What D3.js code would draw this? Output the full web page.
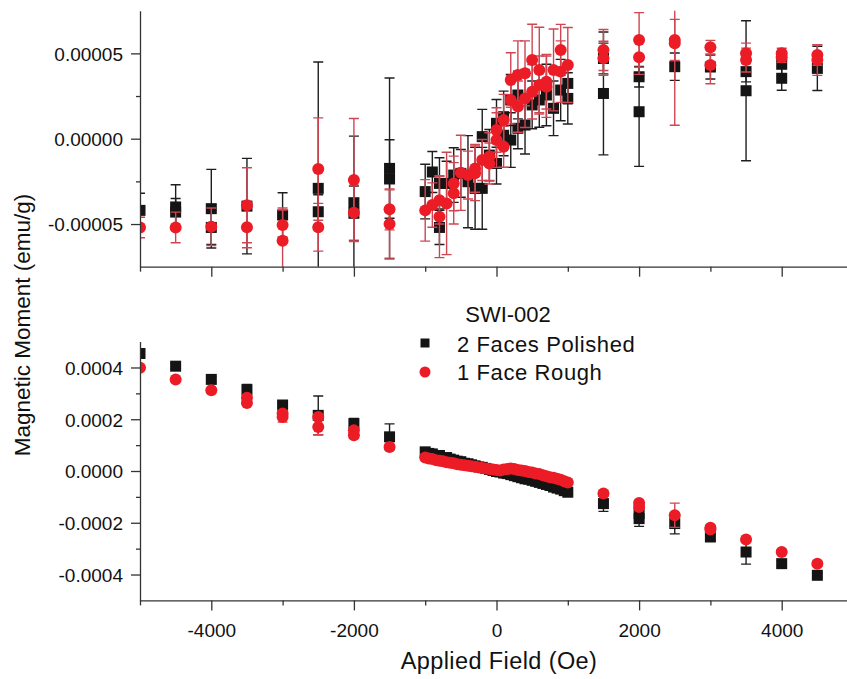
<!DOCTYPE html>
<html>
<head>
<meta charset="utf-8">
<script src="https://cdn.jsdelivr.net/npm/d3@7"></script>
<style>
  body { margin: 0; background: #fff; }
  svg { display: block; font-family: "Liberation Sans", Arial, sans-serif; }
</style>
</head>
<body>
<div id="chart"></div>
<script>
// ---- data (field in Oe, moment in emu/g) ----
// upper panel, 2 faces polished
const topPolishedField = [-5000, -4500, -4500, -4000, -4000, -3500, -3000, -2500, -2500, -2000, -2000, -1500, -1500,
  -1000, -900, -800, -800, -700, -600, -500, -400, -300, -200, -200, -100, 0, 0, 100, 100, 200, 200, 300, 300, 400, 500, 600, 700, 800, 900, 1000, 1000,
  1500, 1500, 2000, 2000, 2500, 3000, 3500, 3500, 4000, 4000, 4500];
const topPolishedMoment = [-4.2e-5, -4.0e-5, -4.3e-5, -4.1e-5, -5.2e-5, -3.95e-5, -4.47e-5, -2.91e-5, -4.28e-5, -3.75e-5, -4.37e-5, -1.74e-5, -2.36e-5,
  -3.1e-5, -1.95e-5, -2.62e-5, -5.2e-5, -2.62e-5, -2.13e-5, -2.03e-5, -2.52e-5, -2.91e-5, -2.91e-5, 0.12e-5, -0.96e-5, -1.45e-5, 0.9e-5, 0.2e-5, 1.29e-5, 2.27e-5, -0.08e-5, 0.61e-5, 2.56e-5, 0.8e-5, 1.98e-5, 2.27e-5, 2.56e-5, 1.78e-5, 2.85e-5, 2.36e-5, 3.24e-5,
  2.65e-5, 4.7e-5, 3.63e-5, 1.58e-5, 4.22e-5, 4.2e-5, 3.93e-5, 2.81e-5, 4.36e-5, 3.54e-5, 4.12e-5];
const topPolishedErr = [1.0e-5, 1.3e-5, 0.8e-5, 2.3e-5, 1.0e-5, 2.8e-5, 1.3e-5, 7.4e-5, 1.0e-5, 3.9e-5, 1.6e-5, 5.3e-5, 2.3e-5,
  1.6e-5, 1.2e-5, 1.5e-5, 1.0e-5, 1.3e-5, 1.6e-5, 1.4e-5, 2.7e-5, 2.4e-5, 2.4e-5, 1.6e-5, 1.5e-5, 1.2e-5, 1.4e-5, 1.2e-5, 1.5e-5, 1.5e-5, 1.6e-5, 1.2e-5, 1.4e-5, 1.7e-5, 1.4e-5, 1.6e-5, 1.8e-5, 1.6e-5, 1.8e-5, 1.5e-5, 1.2e-5,
  3.6e-5, 0.9e-5, 0.6e-5, 3.2e-5, 0.8e-5, 0.7e-5, 0.6e-5, 4.1e-5, 0.7e-5, 0.7e-5, 1.3e-5];

// upper panel, 1 face rough
const topRoughField = [-5000, -4500, -4000, -3500, -3500, -3000, -3000, -2500, -2500, -2000, -2000, -1500, -1500,
  -1000, -900, -800, -800, -700, -600, -600, -500, -400, -300, -300, -200, -100, -100, 0, 0, 100, 100, 200, 200, 300, 300, 400, 400, 500, 500, 600, 600, 700, 700, 800, 900, 900, 1000,
  1500, 1500, 2000, 2000, 2500, 2500, 3000, 3000, 3500, 3500, 4000, 4000, 4500, 4500];
const topRoughMoment = [-5.2e-5, -5.2e-5, -5.16e-5, -3.9e-5, -5.19e-5, -5.06e-5, -5.98e-5, -1.78e-5, -5.19e-5, -2.42e-5, -4.34e-5, -4.14e-5, -5.0e-5,
  -4.2e-5, -3.89e-5, -4.57e-5, -3.6e-5, -3.79e-5, -3.2e-5, -2.62e-5, -2.0e-5, -2.13e-5, -2.03e-5, -1.74e-5, -1.25e-5, -1.05e-5, -1.45e-5, -0.08e-5, 0.51e-5, -0.47e-5, 1.1e-5, 3.44e-5, 2.27e-5, 3.73e-5, 1.88e-5, 2.36e-5, 3.83e-5, 4.61e-5, 2.75e-5, 4.03e-5, 3.15e-5, 3.05e-5, 3.34e-5, 4.03e-5, 5.2e-5, 3.93e-5, 4.32e-5,
  5.2e-5, 4.71e-5, 5.79e-5, 4.77e-5, 5.79e-5, 5.59e-5, 5.36e-5, 4.32e-5, 5.0e-5, 4.61e-5, 5.0e-5, 4.77e-5, 4.9e-5, 4.61e-5];
const topRoughErr = [0.6e-5, 0.9e-5, 1.1e-5, 2.2e-5, 1.2e-5, 1.0e-5, 1.8e-5, 3.0e-5, 1.4e-5, 3.6e-5, 1.6e-5, 1.2e-5, 2.0e-5,
  1.8e-5, 1.3e-5, 2.4e-5, 1.4e-5, 3.0e-5, 1.8e-5, 1.6e-5, 2.2e-5, 1.4e-5, 1.6e-5, 1.4e-5, 1.2e-5, 1.4e-5, 1.2e-5, 1.6e-5, 1.3e-5, 1.2e-5, 1.5e-5, 1.6e-5, 1.4e-5, 2.0e-5, 1.5e-5, 1.7e-5, 1.9e-5, 2.1e-5, 1.6e-5, 2.5e-5, 1.7e-5, 1.8e-5, 1.6e-5, 2.4e-5, 1.5e-5, 1.8e-5, 2.2e-5,
  1.2e-5, 1.0e-5, 1.6e-5, 1.0e-5, 1.2e-5, 4.8e-5, 0.4e-5, 1.1e-5, 0.6e-5, 0.7e-5, 0.3e-5, 0.3e-5, 0.6e-5, 0.9e-5];

// lower panel, 2 faces polished
const botPolishedField = [-5000, -4500, -4000, -3500, -3000, -2500, -2000, -1500,
  -1000, -950, -900, -850, -800, -750, -700, -650, -600, -550, -500, -450, -400, -350, -300, -250, -200, -150, -100, -50, 0,
  50, 100, 150, 200, 250, 300, 350, 400, 450, 500, 550, 600, 650, 700, 750, 800, 850, 900, 950, 1000,
  1500, 2000, 2000, 2500, 3000, 3500, 4000, 4500];
const botPolishedMoment = [4.54e-4, 4.05e-4, 3.54e-4, 3.14e-4, 2.55e-4, 2.15e-4, 1.83e-4, 1.32e-4,
  0.74e-4, 0.68e-4, 0.66e-4, 0.58e-4, 0.60e-4, 0.50e-4, 0.52e-4, 0.46e-4, 0.42e-4, 0.38e-4, 0.36e-4, 0.30e-4, 0.28e-4, 0.24e-4, 0.20e-4, 0.16e-4, 0.14e-4, 0.10e-4, 0.06e-4, 0.02e-4, -0.02e-4,
  -0.04e-4, -0.08e-4, -0.10e-4, -0.14e-4, -0.18e-4, -0.22e-4, -0.26e-4, -0.30e-4, -0.32e-4, -0.36e-4, -0.40e-4, -0.44e-4, -0.48e-4, -0.52e-4, -0.56e-4, -0.62e-4, -0.66e-4, -0.70e-4, -0.76e-4, -0.82e-4,
  -1.26e-4, -1.65e-4, -1.84e-4, -2.03e-4, -2.55e-4, -3.13e-4, -3.58e-4, -4.03e-4];
const botPolishedErr = [0.1e-4, 0.1e-4, 0.1e-4, 0.2e-4, 0.1e-4, 0.75e-4, 0.2e-4, 0.5e-4,
  0.1e-4, 0.1e-4, 0.1e-4, 0.1e-4, 0.1e-4, 0.1e-4, 0.1e-4, 0.1e-4, 0.1e-4, 0.1e-4, 0.1e-4, 0.1e-4, 0.1e-4, 0.1e-4, 0.1e-4, 0.1e-4, 0.1e-4, 0.1e-4, 0.1e-4, 0.1e-4, 0.1e-4,
  0.1e-4, 0.1e-4, 0.1e-4, 0.1e-4, 0.1e-4, 0.1e-4, 0.1e-4, 0.1e-4, 0.1e-4, 0.1e-4, 0.1e-4, 0.1e-4, 0.1e-4, 0.1e-4, 0.1e-4, 0.1e-4, 0.1e-4, 0.1e-4, 0.1e-4, 0.1e-4,
  0.3e-4, 0.1e-4, 0.3e-4, 0.4e-4, 0.1e-4, 0.47e-4, 0.1e-4, 0.1e-4];

// lower panel, 1 face rough
const botRoughField = [-5000, -4500, -4000, -3500, -3500, -3000, -3000, -2500, -2500, -2000, -2000, -1500,
  -1000, -950, -900, -850, -800, -750, -700, -650, -600, -550, -500, -450, -400, -350, -300, -250, -200, -150, -100, -50, 0,
  50, 100, 150, 200, 250, 300, 350, 400, 450, 500, 550, 600, 650, 700, 750, 800, 850, 900, 950, 1000,
  1500, 2000, 2000, 2500, 3000, 3000, 3500, 4000, 4500];
const botRoughMoment = [3.99e-4, 3.54e-4, 3.12e-4, 2.83e-4, 2.63e-4, 2.22e-4, 2.09e-4, 2.09e-4, 1.70e-4, 1.57e-4, 1.38e-4, 0.93e-4,
  0.52e-4, 0.48e-4, 0.46e-4, 0.42e-4, 0.40e-4, 0.38e-4, 0.34e-4, 0.32e-4, 0.30e-4, 0.26e-4, 0.24e-4, 0.22e-4, 0.20e-4, 0.18e-4, 0.16e-4, 0.14e-4, 0.12e-4, 0.10e-4, 0.08e-4, 0.06e-4, 0.04e-4,
  0.02e-4, 0.06e-4, 0.08e-4, 0.10e-4, 0.08e-4, 0.04e-4, 0.02e-4, 0.00e-4, -0.04e-4, -0.06e-4, -0.10e-4, -0.12e-4, -0.16e-4, -0.20e-4, -0.24e-4, -0.26e-4, -0.30e-4, -0.34e-4, -0.40e-4, -0.44e-4,
  -0.87e-4, -1.24e-4, -1.39e-4, -1.71e-4, -2.19e-4, -2.26e-4, -2.65e-4, -3.13e-4, -3.58e-4];
const botRoughErr = [0.05e-4, 0.05e-4, 0.05e-4, 0.1e-4, 0.1e-4, 0.1e-4, 0.2e-4, 0.1e-4, 0.3e-4, 0.1e-4, 0.1e-4, 0.1e-4,
  0.05e-4, 0.05e-4, 0.05e-4, 0.05e-4, 0.05e-4, 0.05e-4, 0.05e-4, 0.05e-4, 0.05e-4, 0.05e-4, 0.05e-4, 0.05e-4, 0.05e-4, 0.05e-4, 0.05e-4, 0.05e-4, 0.05e-4, 0.05e-4, 0.05e-4, 0.05e-4, 0.05e-4,
  0.05e-4, 0.05e-4, 0.05e-4, 0.05e-4, 0.05e-4, 0.05e-4, 0.05e-4, 0.05e-4, 0.05e-4, 0.05e-4, 0.05e-4, 0.05e-4, 0.05e-4, 0.05e-4, 0.05e-4, 0.05e-4, 0.05e-4, 0.05e-4, 0.05e-4, 0.05e-4,
  0.1e-4, 0.1e-4, 0.1e-4, 0.47e-4, 0.1e-4, 0.1e-4, 0.1e-4, 0.1e-4, 0.1e-4];

// axis ticks
const xMajorTicks = [-4000, -2000, 0, 2000, 4000];
const xMinorTicks = [-5000, -3000, -1000, 1000, 3000, 5000];
const topMajorTicks = [-5e-5, 0, 5e-5];
const topMinorTicks = [-2.5e-5, 2.5e-5];
const botMajorTicks = [-4e-4, -2e-4, 0, 2e-4, 4e-4];
const botMinorTicks = [-3e-4, -1e-4, 1e-4, 3e-4];

const legendTitle = 'SWI-002';
const seriesNames = ['2 Faces Polished', '1 Face Rough'];

// ---- layout ----
const width = 847, height = 679;
const black = '#141414', red = '#ec1c26';
const blackBar = '#1e1e1e', redBar = '#cf4653';
const axisColor = '#333';

const x = d3.scaleLinear().domain([-5000, 5000]).range([140, 853]);
const yTop = d3.scaleLinear().domain([-7.5e-5, 7.5e-5]).range([266.7, 10.7]);
const yBot = d3.scaleLinear().domain([-5e-4, 5e-4]).range([600.4, 341.6]);

const fmt = f => d => d3.format(f)(d).replace('\u2212', '-');

const svg = d3.select('#chart').append('svg')
  .attr('width', width)
  .attr('height', height);

function zip(field, moment, err) {
  return field.map((f, i) => ({ f, m: moment[i], e: err[i] }));
}

function drawPanel(id, y, majorY, minorY, yFmt, showXLabels, polished, rough) {
  const [y0, y1] = y.range();

  svg.append('clipPath').attr('id', id)
    .append('rect')
    .attr('x', 140).attr('y', y1)
    .attr('width', width - 140).attr('height', y0 - y1);

  const g = svg.append('g').attr('clip-path', `url(#${id})`);

  // error bars then markers, polished first so rough sits on top
  [[polished, blackBar, black, 'square'], [rough, redBar, red, 'circle']].forEach(([data, barColor, fill, shape]) => {
    const bars = g.append('g')
      .attr('stroke', barColor)
      .attr('stroke-width', 1.4)
      .selectAll('g')
      .data(data)
      .join('g');

    bars.append('line')
      .attr('x1', d => x(d.f)).attr('x2', d => x(d.f))
      .attr('y1', d => y(d.m - d.e)).attr('y2', d => y(d.m + d.e));
    bars.append('line')
      .attr('x1', d => x(d.f) - 5).attr('x2', d => x(d.f) + 5)
      .attr('y1', d => y(d.m + d.e)).attr('y2', d => y(d.m + d.e));
    bars.append('line')
      .attr('x1', d => x(d.f) - 5).attr('x2', d => x(d.f) + 5)
      .attr('y1', d => y(d.m - d.e)).attr('y2', d => y(d.m - d.e));

    if (shape === 'square') {
      g.append('g').selectAll('rect')
        .data(data)
        .join('rect')
        .attr('x', d => x(d.f) - 5.5)
        .attr('y', d => y(d.m) - 5.5)
        .attr('width', 11)
        .attr('height', 11)
        .attr('fill', fill);
    } else {
      g.append('g').selectAll('circle')
        .data(data)
        .join('circle')
        .attr('cx', d => x(d.f))
        .attr('cy', d => y(d.m))
        .attr('r', 6)
        .attr('fill', fill);
    }
  });

  // x axis (major + minor ticks)
  const xAxis = svg.append('g').attr('transform', `translate(0,${y0})`);
  xAxis.call(d3.axisBottom(x).tickValues(xMajorTicks).tickSize(10).tickSizeOuter(0)
    .tickFormat(showXLabels ? d => String(d) : ''));
  xAxis.append('g').call(d3.axisBottom(x).tickValues(xMinorTicks).tickSize(5).tickSizeOuter(0).tickFormat(''))
    .select('.domain').remove();

  // y axis
  const yAxis = svg.append('g').attr('transform', 'translate(140,0)');
  yAxis.call(d3.axisLeft(y).tickValues(majorY).tickSize(9).tickSizeOuter(0).tickFormat(yFmt));
  yAxis.append('g').call(d3.axisLeft(y).tickValues(minorY).tickSize(4).tickSizeOuter(0).tickFormat(''))
    .select('.domain').remove();

  [xAxis, yAxis].forEach(a => {
    a.selectAll('.domain, line').attr('stroke', axisColor).attr('stroke-width', 1.3);
    a.selectAll('text')
      .attr('fill', '#111')
      .style('font-size', '19px')
      .style('font-family', '"Liberation Sans", Arial, sans-serif');
  });
  yAxis.selectAll('text').attr('x', -17).attr('dy', '0.36em');
  xAxis.selectAll('text').attr('y', 23);
}

drawPanel('clipTop', yTop, topMajorTicks, topMinorTicks, fmt('.5f'), false,
  zip(topPolishedField, topPolishedMoment, topPolishedErr),
  zip(topRoughField, topRoughMoment, topRoughErr));

drawPanel('clipBot', yBot, botMajorTicks, botMinorTicks, fmt('.4f'), true,
  zip(botPolishedField, botPolishedMoment, botPolishedErr),
  zip(botRoughField, botRoughMoment, botRoughErr));

// axis titles
svg.append('text')
  .attr('transform', 'translate(30,325) rotate(-90)')
  .attr('text-anchor', 'middle')
  .style('font-size', '22.5px')
  .attr('fill', '#111')
  .text('Magnetic Moment (emu/g)');

svg.append('text')
  .attr('x', 499).attr('y', 669)
  .attr('text-anchor', 'middle')
  .style('font-size', '23.5px')
  .style('letter-spacing', '0.4px')
  .attr('fill', '#111')
  .text('Applied Field (Oe)');

// legend
const legend = svg.append('g').attr('fill', '#111').style('font-size', '22px');
legend.append('text').attr('x', 508).attr('y', 322).attr('text-anchor', 'middle').text(legendTitle);
legend.append('rect').attr('x', 420.5).attr('y', 338.5).attr('width', 9).attr('height', 9).attr('fill', black);
legend.append('text').attr('x', 457).attr('y', 351.5).style('letter-spacing', '0.6px').text(seriesNames[0]);
legend.append('circle').attr('cx', 425).attr('cy', 372).attr('r', 5.5).attr('fill', red);
legend.append('text').attr('x', 457).attr('y', 380).style('letter-spacing', '0.6px').text(seriesNames[1]);
</script>
</body>
</html>
